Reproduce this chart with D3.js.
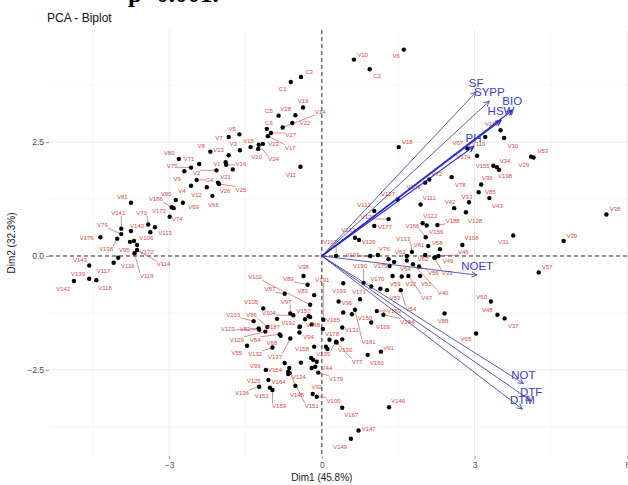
<!DOCTYPE html>
<html><head><meta charset="utf-8">
<script src="https://cdn.jsdelivr.net/npm/d3@7"></script>
<style>body{margin:0;background:#fff;} svg{display:block;}</style>
</head><body><svg id="chart" width="628" height="485"></svg>
<script>
// ---- individuals (PCA scores) ----
const indNames = ["C3","C1","V19","V28","C5","V22","V14","C6","V27","V17","V23","V15","V20","V24","V5","V7","V3","V13","V8","V1","V16","V21","V2","V71","V75","V80","V9","V4","C4","V12","V26","V25","V66","V90","V69","V186","V173","V74","V81","V70","V113","","V140","V141","V79","V138","V176","V95","V106","V172","V114","V119","V116","V117","V143","V139","V118","V142","V11",
"V10","V6","C2","V18","V67","V110","V189","V30","V53","V29","V34","V155","V174","V198","V36","V78","V72","V109","V85","V43","V93","V42","V111","V128","V188","V122","V156","V166","V108","V31","V38","V39","V57","V112","V127","V120","V177","V163","V126","V107","V197","V76","V133","V61","V58","V63","V46","V62","V49","V33","V175","","","V64","V40","V56","V47","V59","V32","V51",
"V190","V170","","V52","V54","V193","V171","V96","V191","V165","V183","V184","V150","V161","V169","V88","V131","V178","V130","V135","","","","V91","V160","V77","V65","V60","V48","V37","V146","V167","V147","V149","V100","V92","V179","V44",
"V98","V89","V83","V102","V87","V105","V97","V104","V157","","V103","V86","V187","V192","V168","V123","V82","V129","V84","V68","V55","V132","V137","V94","","V158","V99","V154","V125","V164","V124","","V136","V152","V148","V159","V151","","","","","","" ];
const indX = [-0.41,-0.61,-0.37,-0.52,-0.85,-0.58,-0.77,-1.08,-1.00,-1.06,-1.16,-1.40,-1.25,-1.24,-1.62,-1.83,-1.61,-1.83,-2.19,-1.89,-1.88,-1.75,-2.07,-2.41,-2.57,-2.81,-2.70,-2.57,-2.46,-2.26,-2.04,-2.02,-2.15,-2.87,-2.73,-2.95,-2.91,-2.99,-3.75,-3.41,-3.37,-3.28,-3.75,-3.94,-3.94,-4.02,-4.35,-3.77,-3.69,-3.63,-3.63,-3.68,-4.00,-4.09,-4.57,-4.57,-4.43,-4.87,-0.42,
0.63,1.61,0.94,1.51,2.86,3.21,3.51,3.58,4.16,4.11,3.44,3.37,3.05,3.48,3.13,2.55,2.11,2.03,3.08,3.29,2.89,2.60,1.94,2.83,2.27,1.98,2.06,2.04,2.76,3.76,5.59,4.75,4.26,1.03,1.49,1.31,1.03,0.65,0.73,0.28,0.95,1.10,1.77,2.09,2.32,1.67,2.29,2.03,2.23,2.21,1.31,1.42,1.33,1.67,1.79,1.91,1.70,1.39,1.57,1.93,
0.82,0.97,1.15,1.28,1.55,0.42,0.75,0.33,0.03,0.42,1.08,1.21,0.59,0.65,0.97,2.41,0.40,0.02,0.40,0.28,0.15,0.08,0.11,1.16,0.90,0.29,3.03,3.32,3.45,3.59,1.32,0.40,0.72,0.57,-0.10,-0.18,-0.07,-0.13,
-0.36,-0.28,-0.15,-0.23,-0.73,-1.15,-0.62,-0.56,-0.26,-0.23,-1.34,-1.07,-0.88,-0.43,-0.33,-1.23,-1.24,-1.11,-0.83,-0.81,-1.47,-0.97,-0.62,-0.44,-0.44,-0.15,-1.10,-0.64,-1.05,-0.66,-0.66,-0.73,-1.23,-1.02,-0.52,-0.97,-0.63,-0.21,-0.17,-0.20,-0.10,-0.41,-0.20];
const indY = [3.93,3.82,3.26,3.09,3.08,2.92,2.82,2.79,2.70,2.63,2.46,2.39,2.35,2.44,2.67,2.61,2.32,2.21,2.29,2.06,2.00,1.90,1.88,2.02,1.94,2.13,1.86,1.54,1.67,1.51,1.61,1.58,1.32,1.23,1.17,1.07,1.05,0.86,1.17,0.69,0.52,0.63,0.55,0.60,0.48,0.38,0.41,0.31,0.33,0.24,0.13,0.06,-0.04,-0.15,-0.21,-0.50,-0.53,-0.55,1.96,
4.31,4.53,4.10,2.39,2.36,2.61,2.76,2.59,2.16,2.18,1.95,1.98,2.20,1.89,1.57,1.73,1.68,1.61,1.40,1.27,1.18,1.05,1.13,0.96,0.68,0.72,0.67,0.41,0.24,0.45,0.91,0.33,-0.36,0.99,1.24,0.81,0.66,0.40,0.35,0.00,0.00,0.02,0.09,0.22,0.15,0.00,0.00,0.02,-0.03,-0.04,-0.07,-0.13,-0.22,-0.10,-0.18,-0.23,-0.44,-0.44,-0.45,-0.44,
-0.59,-0.67,-0.72,-0.75,-0.75,-0.60,-0.95,-1.00,-1.40,-1.24,-1.21,-1.29,-1.28,-1.18,-1.46,-1.26,-1.57,-1.60,-1.83,-1.88,-1.84,-1.99,-2.04,-2.10,-2.17,-1.90,-1.70,-1.00,-1.29,-1.37,-3.32,-3.33,-3.83,-4.01,-3.09,-3.03,-2.56,-2.43,
-0.44,-0.63,-0.86,-1.07,-0.83,-1.15,-1.26,-1.30,-1.32,-1.34,-1.43,-1.56,-1.38,-1.55,-1.39,-1.62,-1.59,-1.66,-1.72,-1.75,-1.97,-2.01,-1.81,-1.56,-1.68,-1.99,-2.50,-2.46,-2.72,-2.59,-2.54,-2.35,-2.87,-2.89,-2.85,-2.94,-2.57,-2.24,-2.28,-2.46,-2.32,-2.34,-1.50];
// repelled label anchors (data units), null = no label drawn
const labelX = [-0.25,-0.77,-0.37,-0.71,-1.04,-0.33,-0.03,-1.04,-0.61,-0.62,-0.95,-1.44,-1.28,-0.95,-1.76,-2.02,-1.74,-2.03,-2.37,-2.06,-1.59,-1.89,-2.46,-2.61,-2.94,-3.00,-2.84,-2.75,-2.21,-2.46,-1.90,-1.59,-2.13,-3.06,-2.52,-3.26,-3.20,-2.84,-3.92,-3.54,-3.08,null,-3.63,-4.00,-4.31,-4.24,-4.62,-3.88,-3.45,-3.44,-3.11,-3.44,-3.81,-4.29,-4.75,-4.79,-4.26,-5.08,-0.61,
0.80,1.46,1.09,1.68,2.67,3.08,3.34,3.75,4.34,3.97,3.60,3.16,2.78,3.60,3.25,2.72,2.26,1.80,3.31,3.45,2.85,2.52,2.11,3.01,2.57,2.13,2.25,1.78,2.94,3.57,5.76,4.91,4.43,0.83,1.30,0.90,1.24,0.52,0.92,0.16,0.60,1.23,1.60,1.91,2.27,1.54,2.78,1.99,2.48,2.46,1.15,null,null,1.64,2.38,2.19,2.06,1.44,1.75,2.05,
0.75,1.09,null,1.44,1.75,0.34,0.73,0.49,0.01,0.22,1.42,1.68,0.85,0.92,1.20,2.38,0.59,0.20,0.46,0.03,null,null,null,1.31,1.08,0.69,2.83,3.14,3.25,3.76,1.50,0.58,0.92,0.36,0.23,-0.10,0.28,0.10,
-0.36,-0.66,-0.38,-1.31,-1.02,-1.39,-0.70,-1.04,-0.36,null,-1.74,-1.38,-0.96,-0.66,-0.17,-1.85,-1.51,-1.67,-1.31,-0.98,-1.67,-1.31,-0.92,-0.26,null,-0.39,-1.31,-0.92,-1.34,-0.85,-0.45,null,-1.57,-1.18,-0.49,-0.84,-0.20,null,null,null,null,null,null];
const labelY = [4.04,3.67,3.40,3.22,3.19,2.92,3.16,2.92,2.65,2.38,2.47,2.52,2.18,2.12,2.79,2.60,2.46,2.32,2.42,2.02,2.02,1.74,1.83,2.13,1.97,2.27,1.69,1.43,1.67,1.34,1.43,1.46,1.13,1.36,1.07,1.25,0.99,0.81,1.30,0.95,0.51,null,0.67,0.95,0.68,0.15,0.40,0.13,0.40,0.09,-0.18,-0.44,-0.21,-0.32,-0.09,-0.39,-0.70,-0.73,1.79,
4.42,4.39,3.95,2.51,2.49,2.46,2.89,2.41,2.30,2.00,2.09,1.97,2.18,1.75,1.72,1.56,1.81,1.52,1.41,1.10,1.30,1.18,1.27,0.77,0.77,0.88,0.52,0.65,0.39,0.30,1.03,0.44,-0.23,1.13,1.37,0.86,0.64,0.57,0.31,0.31,0.03,0.16,0.38,0.24,0.29,0.09,0.09,-0.07,-0.11,-0.38,-0.22,null,null,-0.29,-0.82,-0.37,-0.91,-0.62,-0.62,-0.62,
-0.22,-0.51,null,-0.91,-1.16,-0.77,-0.78,-1.04,-0.53,-1.40,-1.21,-1.44,-1.35,-1.88,-1.56,-1.42,-1.62,-1.70,-2.06,-2.16,null,null,null,-2.02,-2.34,-2.32,-1.82,-0.89,-1.18,-1.54,-3.18,-3.49,-3.80,-4.18,-3.17,-2.88,-2.70,-2.45,
-0.23,-0.50,-0.77,-0.47,-0.73,-1.00,-1.00,-1.26,-1.21,null,-1.29,-1.29,-1.55,-1.46,-1.52,-1.59,-1.59,-1.84,-1.84,-1.90,-2.13,-2.15,-2.22,-1.77,null,-2.05,-2.42,-2.50,-2.74,-2.77,-2.66,null,-3.01,-3.06,-3.05,-3.30,-3.29,null,null,null,null,null,null];

// ---- variables (loadings, scaled) ----
const varNames = ["SF","SYPP","BIO","HSW","PH","NOET","NOT","DTF","DTM"];
const varX = [3.03,3.29,3.74,3.52,2.98,3.05,3.96,4.11,3.94];
const varY = [3.60,3.40,3.20,2.98,2.40,-0.42,-2.80,-3.18,-3.36];

// ---- axes ----
const xTicks = [-3,0,3,6];
const yTicks = [-2.5,0,2.5];
const xMinor = [-4.5,-1.5,1.5,4.5];
const yMinor = [-3.75,-1.25,1.25,3.75];
const titleText = "PCA - Biplot";
const xTitle = "Dim1 (45.8%)";
const yTitle = "Dim2 (32.3%)";
const topNote = "p<0.001.";

// ---- drawing ----
const svg = d3.select("#chart");
const P = {l:49, r:640, t:30, b:456};
const x = d3.scaleLinear().domain([-5.36, 6.25]).range([P.l, P.r]);
const y = d3.scaleLinear().domain([-4.39, 4.96]).range([P.b, P.t]);
const FONT = "'Liberation Sans', Arial, Helvetica, sans-serif";

svg.append("rect").attr("width",628).attr("height",485).attr("fill","#fff");

svg.append("text").attr("x",128).attr("y",2)
  .attr("font-family","'Liberation Serif','Times New Roman',serif").attr("font-weight","bold")
  .attr("font-size",25).attr("fill","#000").text(topNote);
svg.append("text").attr("x",47).attr("y",22).attr("font-family",FONT)
  .attr("font-size",12).attr("fill","#111").text(titleText);

svg.append("clipPath").attr("id","panel").append("rect")
  .attr("x",P.l).attr("y",P.t).attr("width",P.r-P.l).attr("height",P.b-P.t);
const g = svg.append("g").attr("clip-path","url(#panel)");

// grid
g.selectAll(".gxm").data(xMinor).join("line")
  .attr("x1",d=>x(d)).attr("x2",d=>x(d)).attr("y1",P.t).attr("y2",P.b)
  .attr("stroke","#f2f2f2").attr("stroke-width",0.6);
g.selectAll(".gym").data(yMinor).join("line")
  .attr("y1",d=>y(d)).attr("y2",d=>y(d)).attr("x1",P.l).attr("x2",P.r)
  .attr("stroke","#f2f2f2").attr("stroke-width",0.6);
g.selectAll(".gx").data(xTicks).join("line")
  .attr("x1",d=>x(d)).attr("x2",d=>x(d)).attr("y1",P.t).attr("y2",P.b)
  .attr("stroke","#e6e6e6").attr("stroke-width",0.9);
g.selectAll(".gy").data(yTicks).join("line")
  .attr("y1",d=>y(d)).attr("y2",d=>y(d)).attr("x1",P.l).attr("x2",P.r)
  .attr("stroke","#e6e6e6").attr("stroke-width",0.9);

// dashed reference lines
g.append("line").attr("x1",x(0)).attr("x2",x(0)).attr("y1",P.t).attr("y2",P.b)
  .attr("stroke","#000").attr("stroke-width",0.8).attr("stroke-dasharray","4,3");
g.append("line").attr("y1",y(0)).attr("y2",y(0)).attr("x1",P.l).attr("x2",P.r)
  .attr("stroke","#000").attr("stroke-width",0.8).attr("stroke-dasharray","4,3");

// individuals
const inds = indNames.map((n,i)=>({n, x:indX[i], y:indY[i], lx:labelX[i], ly:labelY[i]}));
const segG = g.append("g");
g.append("g").selectAll("circle").data(inds).join("circle")
  .attr("cx",d=>x(d.x)).attr("cy",d=>y(d.y)).attr("r",2.2).attr("fill","#000");
const lab = g.append("g").selectAll("text").data(inds.filter(d=>d.n && d.lx!==null)).join("text")
  .attr("x",d=>x(d.lx)).attr("y",d=>y(d.ly)+2.1).attr("text-anchor","middle")
  .attr("font-family",FONT).attr("font-size",6).attr("fill","#d24b4b").text(d=>d.n);
lab.each(function(d){
  const w = this.getComputedTextLength();
  const cx = x(d.lx), cy = y(d.ly), px = x(d.x), py = y(d.y);
  const nx = Math.max(cx-w/2, Math.min(px, cx+w/2));
  const ny = Math.max(cy-3, Math.min(py, cy+3));
  const dist = Math.hypot(nx-px, ny-py);
  if (dist > 8) {
    segG.append("line").attr("x1",px).attr("y1",py).attr("x2",nx).attr("y2",ny)
      .attr("stroke","#b84545").attr("stroke-width",0.6);
  }
});

// variable arrows
const heavy = new Set(["BIO","HSW","PH"]);
const vars = varNames.map((n,i)=>({n, x:varX[i], y:varY[i]}));
const vg = g.append("g");
vars.forEach(v=>{
  const x0=x(0), y0=y(0), x1=x(v.x), y1=y(v.y);
  const col = heavy.has(v.n) ? "#2626c4" : "#34349a";
  const sw = heavy.has(v.n) ? 1.2 : 0.8;
  vg.append("line").attr("x1",x0).attr("y1",y0).attr("x2",x1).attr("y2",y1)
    .attr("stroke",col).attr("stroke-width",sw);
  const a = Math.atan2(y1-y0, x1-x0), L=6, s=Math.PI/7;
  vg.append("path").attr("d",
    `M${x1-L*Math.cos(a-s)},${y1-L*Math.sin(a-s)}L${x1},${y1}L${x1-L*Math.cos(a+s)},${y1-L*Math.sin(a+s)}`)
    .attr("fill","none").attr("stroke",col).attr("stroke-width",sw);
});
vg.selectAll("text").data(vars).join("text")
  .attr("x",d=>x(d.x)).attr("y",d=>y(d.y)-5).attr("text-anchor","middle")
  .attr("font-family",FONT).attr("font-size",11.5).attr("fill","#3b3bc4").text(d=>d.n);

// axes
const xAxis = svg.append("g").attr("transform",`translate(0,${P.b})`)
  .call(d3.axisBottom(x).tickValues(xTicks).tickFormat(d3.format("d")).tickSize(3).tickPadding(3));
const yAxis = svg.append("g").attr("transform",`translate(${P.l},0)`)
  .call(d3.axisLeft(y).tickValues(yTicks).tickFormat(d3.format(".1f")).tickSize(3).tickPadding(2));
[xAxis,yAxis].forEach(a=>{
  a.select(".domain").remove();
  a.selectAll(".tick line").attr("stroke","#555").attr("stroke-width",0.6);
  a.selectAll(".tick text").attr("font-family",FONT).attr("font-size",8.5).attr("fill","#4d4d4d");
});
svg.append("text").attr("x",x(0)).attr("y",481).attr("text-anchor","middle")
  .attr("font-family",FONT).attr("font-size",10).attr("fill","#1a1a1a").text(xTitle);
svg.append("text").attr("transform",`translate(15,${(P.t+P.b)/2}) rotate(-90)`)
  .attr("text-anchor","middle").attr("font-family",FONT).attr("font-size",10)
  .attr("fill","#1a1a1a").text(yTitle);
</script></body></html>
